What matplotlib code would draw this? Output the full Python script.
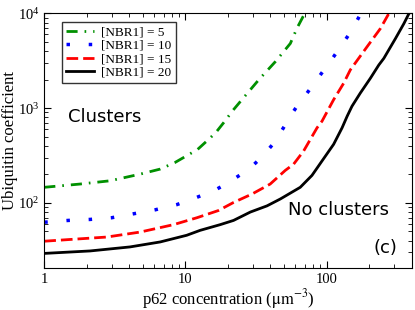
import matplotlib
matplotlib.use("Agg")
import matplotlib.pyplot as plt

# values (x: p62 concentration, y: ubiquitin coefficient)
x5 = [1, 1.79, 2.92, 4.77, 6.6, 8.4, 10.8, 12.2, 15, 16.7, 18.6, 21.7, 25.1, 33,
      43.3, 55.3, 61.7, 70]
y5 = [146, 158, 171, 201, 227, 266, 330, 367, 486, 571, 699, 948, 1227, 1986,
      3090, 4810, 7000, 10000]

x10 = [1, 1.48, 2.11, 3.0, 4.28, 6.1, 8.69, 12.05, 14.2, 16.7, 19.7, 26.5, 30.7, 35,
       44.5, 48.3, 58.3, 65, 72.6, 89.2, 110, 134, 149, 163, 175]
y10 = [62.5, 65.3, 66.9, 69.7, 76.7, 84.5, 95.9, 114.5, 126, 140, 160, 214, 256, 308,
       468, 586, 925, 1178, 1440, 2190, 3350, 5130, 6460, 8250, 10000]

x15 = [1, 1.6, 2.77, 4.77, 8.22, 12.05, 17.1, 21.9, 29.6, 39.8, 50.9, 58.3, 68.7,
       85.5, 92.7, 112, 132, 147, 193, 240, 275, 280]
y15 = [39.4, 41.3, 43.6, 49.2, 58.9, 69.7, 83, 101, 124, 158, 220, 256, 353,
       620, 728, 1227, 1833, 2530, 4430, 6900, 9900, 10000]

x20 = [1, 2.11, 4.05, 6.62, 10.2, 12.7, 17.6, 21.9, 28.8, 37.8, 47, 65, 78.7, 92.7,
       112, 128.6, 139.6, 151, 173, 204, 234, 254, 307, 352, 382, 400]
y20 = [29.3, 31.1, 34.3, 38.7, 45.5, 51.3, 58.9, 65.3, 80, 93, 110, 146, 195, 277,
       415, 620, 820, 1045, 1440, 2066, 2850, 3350, 5420, 7780, 9900, 11000]

labels = ["[NBR1] = 5", "[NBR1] = 10", "[NBR1] = 15", "[NBR1] = 20"]

plt.rcParams["font.family"] = ["Liberation Serif", "DejaVu Serif"]
plt.rcParams["mathtext.fontset"] = "stix"

fig = plt.figure(figsize=(4.15, 3.1), dpi=100)
ax = fig.add_axes([0.1067, 0.1345, 0.8853, 0.8225])

ax.plot(x5, y5, color="#009000", lw=2, dashes=(4, 2.5, 0.6, 2.5), label=labels[0])
ax.plot(x10, y10, color="#0000ff", lw=2.5, dashes=(1, 5.4), label=labels[1])
ax.plot(x15, y15, color="#ff0000", lw=2, dashes=(4.2, 1.8), label=labels[2])
ax.plot(x20, y20, color="black", lw=2, label=labels[3])

ax.set_xscale("log")
ax.set_yscale("log")
ax.set_xlim(1, 400)
ax.set_ylim(20.4, 1e4)

ax.tick_params(which="both", direction="in", top=True, right=True, labelsize=10.5)
ax.tick_params(which="major", length=5)
ax.tick_params(which="minor", length=3)
ax.xaxis.set_major_formatter(matplotlib.ticker.FuncFormatter(lambda v, p: "%d" % v))

ax.set_xlabel(r"p62 concentration ($\mathrm{\mu m^{-3}}$)", fontsize=12)
ax.set_ylabel("Ubiquitin coefficient", fontsize=12)
ax.xaxis.set_label_coords(0.5, -0.072)
ax.yaxis.set_label_coords(-0.072, 0.5)

leg = ax.legend(loc="upper left", bbox_to_anchor=(0.047, 0.967), fontsize=9.5,
                frameon=True, fancybox=False, edgecolor="black", borderaxespad=0,
                handlelength=2.1, borderpad=0.35, labelspacing=0.08, handletextpad=0.55)
leg.get_frame().set_linewidth(1)

ax.text(0.064, 0.575, "Clusters", transform=ax.transAxes, fontsize=13,
        family="DejaVu Sans", va="baseline")
ax.text(0.664, 0.209, "No clusters", transform=ax.transAxes, fontsize=13,
        family="DejaVu Sans", va="baseline")
ax.text(0.895, 0.06, "(c)", transform=ax.transAxes, fontsize=13,
        family="DejaVu Sans", va="baseline")

fig.savefig("out.png", dpi=100)
